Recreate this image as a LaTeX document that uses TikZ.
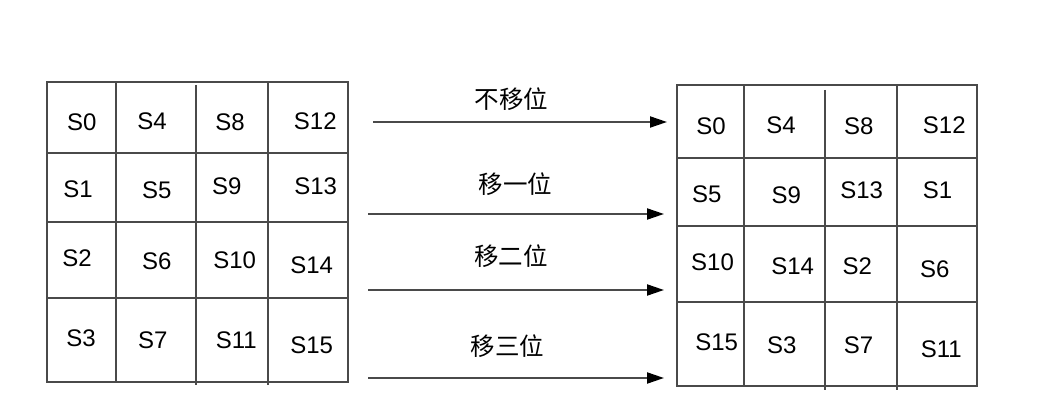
\documentclass[tikz,border=0pt]{standalone}
\usepackage{fontspec}
\setmainfont{Liberation Sans}
\newfontfamily\cjk{Noto Sans CJK SC}
\usetikzlibrary{arrows.meta}
\definecolor{gridc}{HTML}{4A4A4A}
\tikzset{
  gridline/.style={draw=gridc, line width=2pt},
  cell/.style={inner sep=0pt, font=\fontsize{24}{26}\selectfont, text=black},
  lbl/.style={inner sep=0pt, font=\cjk\fontsize{24.5}{28}\selectfont, text=black},
  shiftarrow/.style={draw=gridc, line width=2pt, -{Triangle[length=17pt,width=11pt,color=black]}},
}
\begin{document}
\begin{tikzpicture}[x=1pt,y=-1pt]
\useasboundingbox (0,0) rectangle (1047,403);
% left grid
\draw[gridline] (47,82) rectangle (348,382);
\draw[gridline] (116,82) -- (116,382);
\draw[gridline] (196,85) -- (196,385);
\draw[gridline] (268,82) -- (268,385);
\draw[gridline] (47,153) -- (348,153);
\draw[gridline] (47,222) -- (348,222);
\draw[gridline] (47,298) -- (348,298);
% right grid
\draw[gridline] (677,85) rectangle (977,386);
\draw[gridline] (744,85) -- (744,386);
\draw[gridline] (825,90) -- (825,390);
\draw[gridline] (897,85) -- (897,390);
\draw[gridline] (677,158) -- (977,158);
\draw[gridline] (677,226) -- (977,226);
\draw[gridline] (677,302) -- (977,302);
% left cells
\node[cell] (l0) at (81.7,122.7) {S0};
\node[cell] (l4) at (152,121) {S4};
\node[cell] (l8) at (230,122.7) {S8};
\node[cell] (l12) at (315.3,121) {S12};
\node[cell] (l1) at (78,189.3) {S1};
\node[cell] (l5) at (156.7,190.7) {S5};
\node[cell] (l9) at (226.7,186.7) {S9};
\node[cell] (l13) at (315.7,186.7) {S13};
\node[cell] (l2) at (77,258.3) {S2};
\node[cell] (l6) at (156.7,261.7) {S6};
\node[cell] (l10) at (234.7,260.7) {S10};
\node[cell] (l14) at (311.7,265) {S14};
\node[cell] (l3) at (81,338.3) {S3};
\node[cell] (l7) at (152.8,340) {S7};
\node[cell] (l11) at (236.3,340) {S11};
\node[cell] (l15) at (311.7,345) {S15};
% right cells
\node[cell] (r0) at (711,126.7) {S0};
\node[cell] (r4) at (781,125) {S4};
\node[cell] (r8) at (858.7,126.7) {S8};
\node[cell] (r12) at (944.3,125) {S12};
\node[cell] (r5) at (706.7,194) {S5};
\node[cell] (r9) at (786.2,195) {S9};
\node[cell] (r13) at (861.7,190) {S13};
\node[cell] (r1) at (937.5,190.7) {S1};
\node[cell] (r10) at (712.5,262.7) {S10};
\node[cell] (r14) at (792.7,266.7) {S14};
\node[cell] (r2) at (857.2,266) {S2};
\node[cell] (r6) at (934.7,269.3) {S6};
\node[cell] (r15) at (716.7,342.7) {S15};
\node[cell] (r3) at (781.7,345) {S3};
\node[cell] (r7) at (858.5,345) {S7};
\node[cell] (r11) at (941.3,349.3) {S11};
% labels
\node[lbl] (t0) at (511.7,99) {不移位};
\node[lbl] (t1) at (515.5,184) {移一位};
\node[lbl] (t2) at (510.8,256) {移二位};
\node[lbl] (t3) at (507.5,346) {移三位};
% arrows
\coordinate (a0s) at (373,122); \coordinate (a0e) at (667,122);
\coordinate (a1s) at (368,214); \coordinate (a1e) at (664,214);
\coordinate (a2s) at (368,290); \coordinate (a2e) at (664,290);
\coordinate (a3s) at (368,378); \coordinate (a3e) at (664,378);
\draw[shiftarrow] (a0s) -- (a0e);
\draw[shiftarrow] (a1s) -- (a1e);
\draw[shiftarrow] (a2s) -- (a2e);
\draw[shiftarrow] (a3s) -- (a3e);
\end{tikzpicture}
\end{document}
